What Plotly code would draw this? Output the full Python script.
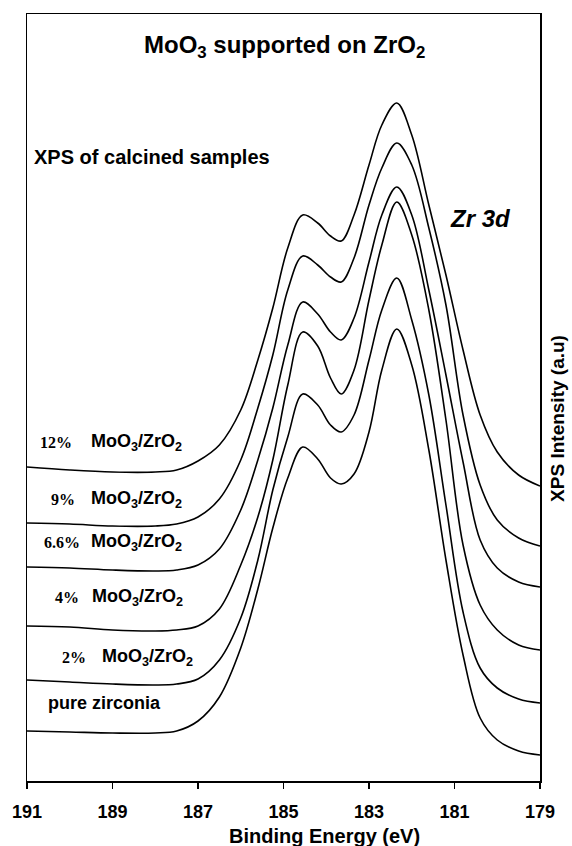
import plotly.graph_objects as go

# Binding energy grid (eV)
energy = [191, 190, 189, 188, 187.5, 187, 186.5, 186, 185.6, 185.25, 184.9, 184.55,
          184.2, 183.9, 183.65, 183.35, 183.0, 182.7, 182.35, 182.0, 181.6, 181.2,
          180.8, 180.4, 180.0, 179.5, 179.0]

# XPS intensities (a.u., stacked/offset as in the figure)
mo12 = [314, 311, 309, 309, 311, 320, 336, 371, 421, 473, 533, 566, 558, 545, 540,
        566, 616, 656, 678, 646, 576, 506, 431, 366, 329, 306, 295]
mo9 = [258, 257, 255, 255, 257, 264, 282, 321, 373, 426, 491, 525, 516, 504, 499,
       523, 576, 613, 638, 616, 553, 476, 366, 296, 261, 243, 235]
mo66 = [214, 213, 211, 210, 211, 216, 232, 271, 321, 373, 436, 479, 467, 449, 441,
        463, 519, 566, 594, 566, 491, 406, 319, 241, 213, 199, 194]
mo4 = [155, 154, 151, 150, 151, 155, 172, 216, 264, 321, 396, 449, 435, 403, 387,
       411, 481, 536, 579, 546, 471, 361, 236, 176, 151, 136, 131]
mo2 = [101, 99, 97, 96, 97, 102, 121, 163, 221, 291, 344, 387, 376, 356, 349,
       366, 421, 471, 503, 461, 386, 276, 169, 113, 93, 82, 78]
pure = [50, 49, 48, 48, 50, 60, 84, 133, 192, 253, 303, 334, 322, 303, 297,
        307, 349, 411, 452, 416, 331, 221, 126, 63, 41, 30, 26]

series = [mo12, mo9, mo66, mo4, mo2, pure]
series_names = ["12% MoO3/ZrO2", "9% MoO3/ZrO2", "6.6% MoO3/ZrO2",
                "4% MoO3/ZrO2", "2% MoO3/ZrO2", "pure zirconia"]

tick_vals = [191, 189, 187, 185, 183, 181, 179]
tick_text = ["191", "189", "187", "185", "183", "181", "179"]

pct_labels = ["12%", "9%", "6.6%", "4%", "2%"]
pct_pos = [(0.0562, 0.4407), (0.0698, 0.3664), (0.0678, 0.3103), (0.0785, 0.2386), (0.0921, 0.1604)]
formula_pos = [(0.1202, 0.4407), (0.1202, 0.3664), (0.1202, 0.3103), (0.1221, 0.2386), (0.1415, 0.1604)]

SANS = "Liberation Sans, Arial, sans-serif"
SERIF = "Liberation Serif, Times New Roman, serif"

fig = go.Figure()
for name, ys in zip(series_names, series):
    fig.add_trace(go.Scatter(x=energy, y=ys, mode="lines", name=name,
                             line=dict(color="black", width=1.6, shape="spline", smoothing=1.0),
                             showlegend=False, hoverinfo="skip"))

ann = []
ann.append(dict(text="<b>MoO<sub>3</sub> supported on ZrO<sub>2</sub></b>", x=0.502, y=0.957,
                xref="paper", yref="paper", showarrow=False, xanchor="center", yanchor="middle",
                font=dict(family=SANS, size=24, color="black")))
ann.append(dict(text="<b>XPS of calcined samples</b>", x=0.0095, y=0.8136,
                xref="paper", yref="paper", showarrow=False, xanchor="left", yanchor="middle",
                font=dict(family=SANS, size=20, color="black")))
ann.append(dict(text="<b><i>Zr 3d</i></b>", x=0.884, y=0.734,
                xref="paper", yref="paper", showarrow=False, xanchor="center", yanchor="middle",
                font=dict(family=SANS, size=24, color="black")))
for lab, (px, py) in zip(pct_labels, pct_pos):
    ann.append(dict(text="<b>" + lab + "</b>", x=px, y=py, xref="paper", yref="paper",
                    showarrow=False, xanchor="center", yanchor="middle",
                    font=dict(family=SERIF, size=16, color="black")))
for (px, py) in formula_pos:
    ann.append(dict(text="<b>MoO<sub>3</sub>/ZrO<sub>2</sub></b>", x=px, y=py, xref="paper", yref="paper",
                    showarrow=False, xanchor="left", yanchor="middle",
                    font=dict(family=SANS, size=18, color="black")))
ann.append(dict(text="<b>pure zirconia</b>", x=0.0368, y=0.1017, xref="paper", yref="paper",
                showarrow=False, xanchor="left", yanchor="middle",
                font=dict(family=SANS, size=18, color="black")))
ann.append(dict(text="<b>XPS Intensity (a.u)</b>", x=1.0349, y=0.4733, xref="paper", yref="paper",
                showarrow=False, xanchor="center", yanchor="middle", textangle=-90,
                font=dict(family=SANS, size=19, color="black")))
ann.append(dict(text="<b>Binding Energy (eV)</b>", x=0.5795, y=-0.0717, xref="paper", yref="paper",
                showarrow=False, xanchor="center", yanchor="middle",
                font=dict(family=SANS, size=20, color="black")))

fig.update_layout(
    width=572, height=846,
    margin=dict(l=24, r=32, t=14, b=65),
    paper_bgcolor="white", plot_bgcolor="white",
    annotations=ann,
    xaxis=dict(range=[191, 179], tickvals=tick_vals, ticktext=tick_text,
               showline=True, linecolor="black", linewidth=1.5, mirror=True,
               ticks="outside", ticklen=6, tickwidth=1.5, tickcolor="black",
               showgrid=False, zeroline=False, ticklabelstandoff=8,
               tickfont=dict(family=SANS, size=18, color="black", weight="bold")),
    yaxis=dict(range=[0, 767], showline=True, linecolor="black", linewidth=1.5, mirror=True,
               showticklabels=False, ticks="", showgrid=False, zeroline=False),
)

fig.write_html("out.html", config={"displayModeBar": False, "staticPlot": True},
               post_script="document.body.style.margin='0';document.body.style.padding='0';"
                           "document.body.style.overflow='hidden';")
